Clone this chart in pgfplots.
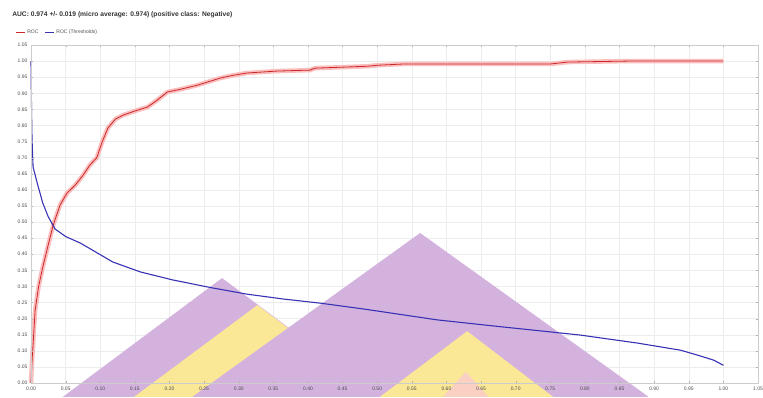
\documentclass[border=0pt]{standalone}
\usepackage{fontspec}
\setmainfont{Liberation Sans}
\usepackage{pgfplots}
\pgfplotsset{compat=1.18}
\definecolor{rocred}{RGB}{205,40,40}
\definecolor{bandpink}{RGB}{250,190,190}
\definecolor{thrblue}{RGB}{55,50,180}
\definecolor{triPurple}{RGB}{212,178,222}
\definecolor{triYellow}{RGB}{250,232,150}
\definecolor{triPink}{RGB}{250,208,195}
\pgfplotsset{
  mybase/.style={
    scale only axis,
    width=727pt, height=338pt,
    xmin=0, xmax=1.05, ymin=0, ymax=1.05,
    xtick={0,0.05,0.10,0.15,0.20,0.25,0.30,0.35,0.40,0.45,0.50,0.55,0.60,0.65,0.70,0.75,0.80,0.85,0.90,0.95,1.00,1.05},
    ytick={0,0.05,0.10,0.15,0.20,0.25,0.30,0.35,0.40,0.45,0.50,0.55,0.60,0.65,0.70,0.75,0.80,0.85,0.90,0.95,1.00,1.05},
  }
}
\begin{document}
\begin{tikzpicture}
% grid-only axis underneath
\begin{axis}[
  mybase,
  xticklabels={}, yticklabels={},
  major tick length=0pt,
  grid=major,
  grid style={gray!15, line width=0.4pt},
  axis line style={draw=none},
]
\addplot[draw=none, forget plot] coordinates {(0,0)};
\end{axis}
% main axis
\begin{axis}[
  mybase,
  set layers,
  axis on top,
  clip=false,
  /pgf/number format/assume math mode=true,
  /pgf/number format/.cd, fixed, fixed zerofill, precision=2, /pgfplots/.cd,
  ticklabel style={font=\fontsize{5}{6}\selectfont, text=black!70},
  major tick length=2pt,
  tick style={gray!60},
  axis line style={gray!40},
  legend style={at={(-0.026,1.038)}, anchor=west, draw=none, fill=none,
    font=\fontsize{5}{6}\selectfont, text=black!70, legend columns=2,
    /tikz/every even column/.append style={column sep=4pt}},
  legend image code/.code={\draw[#1, line width=1pt] (0pt,0pt) -- (9pt,0pt);},
]
% decorative triangles
\addplot[forget plot, draw=none, fill=triPurple] coordinates {(0.046,-0.043) (0.276,0.326) (0.506,-0.043) (0.046,-0.043)};
\addplot[forget plot, draw=none, fill=triYellow] coordinates {(0.149,-0.043) (0.327,0.242) (0.504,-0.043) (0.149,-0.043)};
\addplot[forget plot, draw=none, fill=triPurple] coordinates {(0.233,-0.043) (0.562,0.466) (0.892,-0.043) (0.233,-0.043)};
\addplot[forget plot, draw=none, fill=triYellow] coordinates {(0.504,-0.043) (0.630,0.161) (0.754,-0.043) (0.504,-0.043)};
\addplot[forget plot, draw=none, fill=triPink] coordinates {(0.595,-0.043) (0.628,0.035) (0.661,-0.043) (0.595,-0.043)};
% ROC band
\addplot[forget plot, bandpink, line width=4.5pt, line join=round] coordinates {
(0,0) (0.001,0.05) (0.003,0.12) (0.006,0.227) (0.011,0.30) (0.017,0.36) (0.025,0.43) (0.032,0.49) (0.042,0.553) (0.052,0.59) (0.064,0.615) (0.075,0.645) (0.085,0.677) (0.095,0.70) (0.103,0.75) (0.111,0.792) (0.122,0.82) (0.133,0.832) (0.150,0.845) (0.168,0.857) (0.180,0.875) (0.197,0.904) (0.215,0.912) (0.240,0.925) (0.255,0.935) (0.273,0.947) (0.290,0.955) (0.312,0.963) (0.355,0.969) (0.403,0.972) (0.410,0.978) (0.486,0.984) (0.50,0.987) (0.538,0.991) (0.75,0.991) (0.775,0.997) (0.861,1.0) (1.0,1.0)};
% ROC
\addplot[rocred, line width=0.8pt] coordinates {
(0,0) (0.001,0.05) (0.003,0.12) (0.006,0.227) (0.011,0.30) (0.017,0.36) (0.025,0.43) (0.032,0.49) (0.042,0.553) (0.052,0.59) (0.064,0.615) (0.075,0.645) (0.085,0.677) (0.095,0.70) (0.103,0.75) (0.111,0.792) (0.122,0.82) (0.133,0.832) (0.150,0.845) (0.168,0.857) (0.180,0.875) (0.197,0.904) (0.215,0.912) (0.240,0.925) (0.255,0.935) (0.273,0.947) (0.290,0.955) (0.312,0.963) (0.355,0.969) (0.403,0.972) (0.410,0.978) (0.486,0.984) (0.50,0.987) (0.538,0.991) (0.75,0.991) (0.775,0.997) (0.861,1.0) (1.0,1.0)};
\addlegendentry{ROC}
% Thresholds
\addplot[thrblue, line width=1.1pt] coordinates {
(0,1.0) (0.0005,0.9) (0.001,0.82) (0.0015,0.755) (0.003,0.671) (0.009,0.621) (0.017,0.559) (0.025,0.516) (0.035,0.478) (0.05,0.455) (0.071,0.435) (0.095,0.405) (0.118,0.376) (0.158,0.345) (0.205,0.320) (0.263,0.295) (0.312,0.276) (0.364,0.261) (0.418,0.248) (0.48,0.230) (0.587,0.196) (0.682,0.174) (0.793,0.149) (0.876,0.124) (0.938,0.102) (0.962,0.087) (0.986,0.071) (1.0,0.055)};
\addlegendentry{ROC (Thresholds)}
\node[anchor=west, font=\bfseries\fontsize{6.7}{8}\selectfont, text=black!80, inner sep=0pt] at (rel axis cs:-0.026,1.089) {AUC: 0.974 +/- 0.019 (micro average: 0.974) (positive class: Negative)};
\end{axis}
\pgfresetboundingbox
\path[use as bounding box] (-31pt,-14pt) rectangle (732pt,383pt);
\end{tikzpicture}
\end{document}
